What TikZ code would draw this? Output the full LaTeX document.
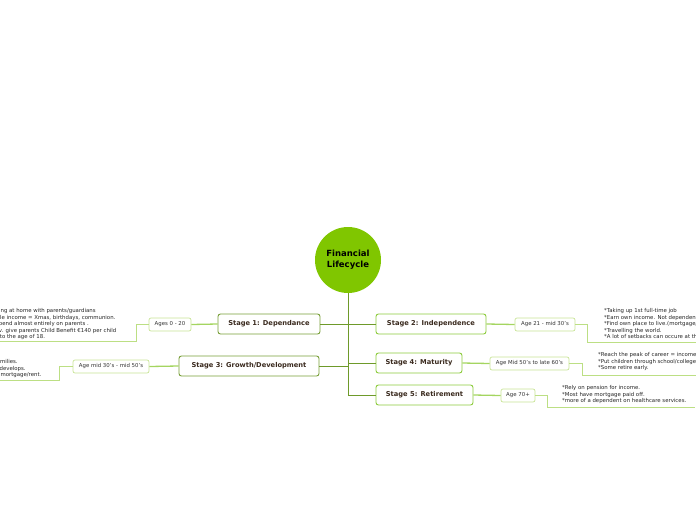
\documentclass[tikz,border=0pt]{standalone}
\usepackage{fontspec}
\setmainfont{DejaVu Sans}
\usetikzlibrary{positioning}
\definecolor{clrHub}{HTML}{80C600}
\definecolor{clrTrunk}{HTML}{6E9A2A}
\definecolor{clrStageL}{HTML}{789F38}
\definecolor{clrStageR}{HTML}{8CCB3C}
\definecolor{clrAge}{HTML}{C8E496}
\definecolor{clrText}{HTML}{3A2A1E}

\begin{document}
\begin{tikzpicture}[x=1pt, y=-1pt,
    hub/.style={circle, fill=clrHub, minimum size=66pt, inner sep=0pt, align=center, font=\fontsize{8.5}{10.5}\selectfont\bfseries},
    stage/.style={rectangle, draw=clrStageR, fill=white, rounded corners=2.5pt, minimum height=20pt, inner xsep=2pt, line width=0.9pt, font=\fontsize{6.7}{8}\selectfont\bfseries, text=clrText},
    agebox/.style={rectangle, draw=clrAge, fill=white, rounded corners=2pt, minimum height=13pt, inner xsep=2pt, inner ysep=0pt, line width=0.7pt, font=\fontsize{5.4}{6.5}\selectfont, text=black!80},
    desc/.style={inner sep=0pt, align=left, font=\fontsize{5.4}{6.5}\selectfont, text=black!85},
    trunk/.style={line width=0.9pt, clrTrunk},
    branch/.style={line width=1.3pt, clrStageR!60!clrAge},
    agelink/.style={line width=0.7pt, clrAge!80!clrStageR},
]
\clip (0,0) rectangle (696,520);

% === Centre ===
\node[hub] (hub) at (348,260)
    {\raisebox{-3pt}{\begin{tabular}{@{}c@{}}Financial\\Lifecycle\end{tabular}}};
\coordinate (trunkend) at (348,395);
\draw[trunk] (hub.south) -- (trunkend);

% === Stages ===
\node[stage, draw=clrStageL, minimum width=102pt] (s1) at (269,324) {Stage 1: Dependance};
\node[stage, draw=clrStageL, minimum width=140pt] (s3) at (249,366) {Stage 3: Growth/Development};
\node[stage, minimum width=110pt] (s2) at (431,324) {Stage 2: Independence};
\node[stage, minimum width=86pt] (s4) at (419,363) {Stage 4: Maturity};
\node[stage, minimum width=97pt] (s5) at (424.5,395) {Stage 5: Retirement};

\draw[trunk] (s1.east) -- (s1.east -| hub);
\draw[trunk] (s3.east) -- (s3.east -| hub);
\draw[trunk] (s2.west) -- (s2.west -| hub);
\draw[trunk] (s4.west) -- (s4.west -| hub);
\draw[trunk] (s5.west) -- (trunkend);

% === Age boxes ===
\node[agebox, minimum width=42pt] (a1) at (170,324.5) {Ages 0 - 20};
\node[agebox, minimum width=76pt] (a3) at (111,366.5) {Age mid 30's - mid 50's};
\node[agebox, minimum width=60pt] (a2) at (545,324.5) {Age 21 - mid 30's};
\node[agebox, minimum width=79pt] (a4) at (529.5,363.5) {Age Mid 50's to late 60's};
\node[agebox, minimum width=34pt] (a5) at (518,395.5) {Age 70+};

\draw[branch] (s1.west) -- (a1.east);
\draw[branch] (s3.west) -- (a3.east);
\draw[branch] (s2.east) -- (a2.west);
\draw[branch] (s4.east) -- (a4.west);
\draw[branch] (s5.east) -- (a5.west);

% === Notes ===
\node[desc, anchor=north west] (d1) at (-11.5,308.5)
    {*Living at home with parents/guardians\\*Little income = Xmas, birthdays, communion.\\*Depend almost entirely on parents .\\*Gov. give parents Child Benefit €140 per child\\*up to the age of 18.};
\node[desc, anchor=north west] (d3) at (-23,359.5)
    {*Start families.\\*Career develops.\\*Have a mortgage/rent.};
\node[desc, anchor=north west] (d2) at (604,308.5)
    {*Taking up 1st full-time job\\*Earn own income. Not dependent on parents.\\*Find own place to live.(mortgage/rent)\\*Travelling the world.\\*A lot of setbacks can occure at this stage.};
\node[desc, anchor=north west] (d4) at (598,352.5)
    {*Reach the peak of career = income.\\*Put children through school/college.\\*Some retire early.};
\node[desc, anchor=north west] (d5) at (562,385.5)
    {*Rely on pension for income.\\*Most have mortgage paid off.\\*more of a dependent on healthcare services.};

\coordinate (u1) at (-2,341);
\coordinate (u3) at (-2,380);
\coordinate (u2) at (698,342);
\coordinate (u4) at (698,375);
\coordinate (u5) at (695,407);
\draw[agelink] (a1.west) -- ++(-12,0) |- (u1);
\draw[agelink] (a3.west) -- ++(-13,0) |- (u3);
\draw[agelink] (a2.east) -- ++(12,0) |- (u2);
\draw[agelink] (a4.east) -- ++(13,0) |- (u4);
\draw[agelink] (a5.east) -- ++(12,0) |- (u5);

\end{tikzpicture}
\end{document}
